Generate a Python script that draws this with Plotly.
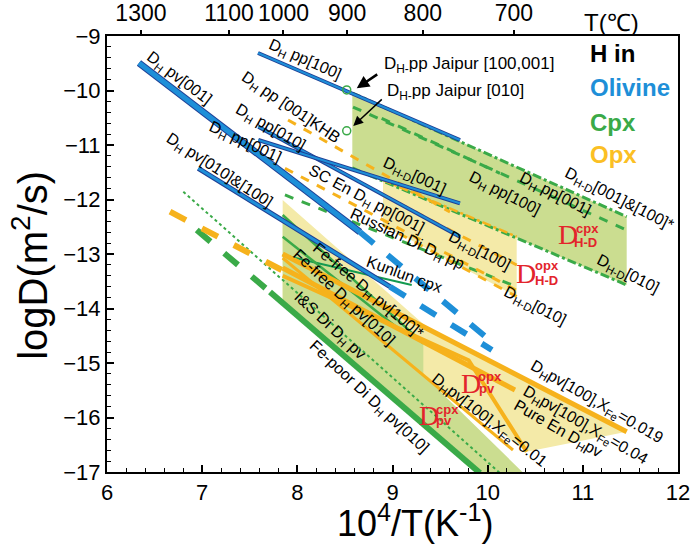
import plotly.graph_objects as go

# ---------------- data (x = 10^4/T, y = logD) ----------------
# Olivine
ol_pp100_x = [7.587, 9.709];  ol_pp100_y = [-9.312, -10.908]
ol_pv001_x = [6.336, 8.658];  ol_pv001_y = [-9.495, -12.596]
ol_pv001e_x = [8.658, 10.0];  ol_pv001e_y = [-12.596, -14.55]
ol_pp010_x = [7.590, 9.709];  ol_pp010_y = [-10.664, -12.683]
ol_pp001_x = [7.590, 9.709];  ol_pp001_y = [-10.908, -12.070]
ol_pv010_x = [6.959, 8.974];  ol_pv010_y = [-11.428, -13.600]
ol_pv010e_x = [8.974, 10.045]; ol_pv010e_y = [-13.600, -14.761]

# Cpx
cpx_hd_poly_x = [8.578, 11.461, 11.461, 8.578]
cpx_hd_poly_y = [-10.046, -12.316, -13.569, -11.422]
cpx_hd001_x = [8.578, 11.461]; cpx_hd001_y = [-10.046, -12.316]
cpx_hd010_x = [8.578, 11.461]; cpx_hd010_y = [-11.422, -13.569]
cpx_pp100_x = [8.886, 10.129]; cpx_pp100_y = [-10.511, -11.520]
cpx_pp001_x = [8.585, 11.461]; cpx_pp001_y = [-10.303, -12.560]
cpx_rus_x = [7.870, 10.305];   cpx_rus_y = [-11.917, -13.600]
cpx_kun_x = [7.846, 9.202];    cpx_kun_y = [-13.018, -13.569]
cpx_pv_poly_x = [7.846, 9.324, 9.324, 10.365, 9.919, 7.846]
cpx_pv_poly_y = [-12.284, -14.639, -15.220, -17.0, -17.0, -13.881]
cpx_ff100_x = [7.846, 9.324];  cpx_ff100_y = [-12.284, -14.639]
cpx_ff010_x = [7.846, 9.079];  cpx_ff010_y = [-12.683, -14.394]
cpx_dot_x = [6.802, 10.129];   cpx_dot_y = [-11.857, -17.018]
cpx_fpe_x = [6.943, 7.713];    cpx_fpe_y = [-12.560, -13.697]
cpx_fp_x = [7.713, 9.919];     cpx_fp_y = [-13.697, -17.018]
jaipur_x = [8.519, 8.519];     jaipur_y = [-9.99, -10.74]

# Opx
opx_hd_poly_x = [8.900, 10.305, 10.305, 8.900]
opx_hd_poly_y = [-11.642, -12.683, -13.783, -12.468]
opx_hd001_x = [8.900, 10.305]; opx_hd001_y = [-11.642, -12.683]
opx_hd100_x = [8.900, 10.305]; opx_hd100_y = [-11.917, -13.202]
opx_hd010_x = [8.900, 10.305]; opx_hd010_y = [-12.468, -13.783]
opx_khb_x = [7.902, 9.604];    opx_khb_y = [-10.541, -12.229]
opx_sc_x = [7.870, 10.297];    opx_sc_y = [-11.428, -13.661]
opx_pv_poly_x = [7.846, 9.395, 11.461, 10.410, 9.324, 7.846]
opx_pv_poly_y = [-12.009, -14.394, -16.261, -16.628, -15.220, -13.844]
opx_pve_x = [6.662, 7.836];    opx_pve_y = [-12.224, -13.294]
opx_019_x = [7.846, 11.461];   opx_019_y = [-13.0, -16.261]
opx_004_x = [7.846, 10.287];   opx_004_y = [-13.257, -15.495]
opx_001_x = [7.846, 10.266];   opx_001_y = [-13.073, -16.596]
opx_pure_x = [7.846, 9.8, 10.41]; opx_pure_y = [-13.40, -14.95, -16.628]

# axis ticks
top_T = [1300, 1100, 1000, 900, 800, 700]
y_ticks = [-17, -16, -15, -14, -13, -12, -11, -10, -9]

BLUE = "#1e8fd8"; DBLUE = "#1f3f95"; GREEN = "#3aaa48"; DGREEN = "#139a50"
ORANGE = "#f6b21c"; RED = "#e3242b"
CPXFILL = "#cbdd90"; OPXFILL = "#f4eaa8"

fig = go.Figure()

def line(x, y, color, width, dash="solid"):
    fig.add_trace(go.Scatter(x=x, y=y, mode="lines", line=dict(color=color, width=width, dash=dash),
                             hoverinfo="skip", showlegend=False))

def poly(x, y, color):
    fig.add_trace(go.Scatter(x=x, y=y, mode="lines", fill="toself", fillcolor=color,
                             line=dict(width=0), hoverinfo="skip", showlegend=False))

# fills
poly(opx_pv_poly_x, opx_pv_poly_y, OPXFILL)
poly(cpx_pv_poly_x, cpx_pv_poly_y, CPXFILL)
poly(cpx_hd_poly_x, cpx_hd_poly_y, CPXFILL)
poly(opx_hd_poly_x, opx_hd_poly_y, OPXFILL)

# cpx lines
line(cpx_hd001_x, cpx_hd001_y, GREEN, 3, "dashdot")
line(cpx_hd010_x, cpx_hd010_y, GREEN, 3, "dashdot")
line(cpx_pp100_x, cpx_pp100_y, GREEN, 3, "dash")
line(cpx_pp001_x, cpx_pp001_y, GREEN, 3, "dash")
line(cpx_rus_x, cpx_rus_y, GREEN, 3, "dash")
line(cpx_kun_x, cpx_kun_y, DGREEN, 2)
line(cpx_ff100_x, cpx_ff100_y, GREEN, 2.5)
line(cpx_ff010_x, cpx_ff010_y, GREEN, 2.5)
line(cpx_dot_x, cpx_dot_y, GREEN, 2, "dot")
line(cpx_fpe_x, cpx_fpe_y, GREEN, 6, "dash")
line(cpx_fp_x, cpx_fp_y, GREEN, 6)

# opx lines
line(opx_hd001_x, opx_hd001_y, ORANGE, 2.5, "dashdot")
line(opx_hd100_x, opx_hd100_y, ORANGE, 3, "dash")
line(opx_hd010_x, opx_hd010_y, ORANGE, 3, "dash")
line(opx_khb_x, opx_khb_y, ORANGE, 3, "dash")
line(opx_sc_x, opx_sc_y, ORANGE, 3, "dash")
line(opx_pve_x, opx_pve_y, ORANGE, 6, "dash")
line(opx_019_x, opx_019_y, ORANGE, 5)
line(opx_004_x, opx_004_y, ORANGE, 5)
line(opx_001_x, opx_001_y, ORANGE, 3)
line(opx_pure_x, opx_pure_y, ORANGE, 4)

# olivine lines (dark outline + light core)
for xs, ys, w in [(ol_pp100_x, ol_pp100_y, 4), (ol_pp010_x, ol_pp010_y, 4), (ol_pp001_x, ol_pp001_y, 4),
                  (ol_pv010_x, ol_pv010_y, 5), (ol_pv001_x, ol_pv001_y, 7)]:
    line(xs, ys, DBLUE, w)
    line(xs, ys, BLUE, w - 2)
line(ol_pv001e_x, ol_pv001e_y, BLUE, 6, "dash")
line(ol_pv010e_x, ol_pv010e_y, BLUE, 6, "dash")

fig.add_trace(go.Scatter(x=jaipur_x, y=jaipur_y, mode="markers",
                         marker=dict(symbol="circle-open", size=8, color=GREEN, line=dict(width=1.5)),
                         hoverinfo="skip", showlegend=False))
# dummy trace for top axis
fig.add_trace(go.Scatter(x=[6, 12], y=[-17, -17], xaxis="x2", mode="markers",
                         marker=dict(opacity=0), hoverinfo="skip", showlegend=False))

FONT = "Liberation Sans, Arial, sans-serif"
ann = []
def label(text, x, y, angle=0, size=16, color="black", xanchor="center", family=FONT):
    ann.append(dict(text=text, x=x, y=y, xref="x", yref="y", showarrow=False, textangle=angle,
                    font=dict(size=size, color=color, family=family), xanchor=xanchor, yanchor="middle"))

S = "<sub>H</sub>"
SD = "<sub>H-D</sub>"
labels = [
    ("D" + S + " pp[100]", 8.070, -9.440, 24),
    ("D" + S + " pv[001]", 6.757, -9.771, 37),
    ("D" + S + " pp [001]KHB", 7.923, -10.321, 34),
    ("D" + S + " pp[010]", 7.713, -10.670, 30),
    ("D" + S + " pp[001]", 7.450, -10.963, 25),
    ("D" + S + " pv[010]&[100]", 7.177, -11.459, 33),
    ("SC En D" + S + " pp[001]", 8.721, -12.009, 28),
    ("Russian Di D" + S + " pp", 9.152, -12.743, 25),
    ("Kunlun cpx", 9.131, -13.367, 20),
    ("Fe-free D" + S + " pv[100]*", 8.742, -13.697, 40),
    ("Fe-free D" + S + " pv[010]", 8.480, -13.807, 43),
    ("I&S Di D" + S + " pv", 8.333, -14.321, 43),
    ("Fe-poor Di D" + S + " pv[010]", 8.753, -15.642, 43),
    ("D" + SD + "[001]", 9.236, -11.569, 25),
    ("D" + S + " pp[100]", 10.172, -11.881, 27),
    ("D" + S + " pp[001]", 10.707, -11.917, 27),
    ("D" + SD + "[001]&[100]*", 11.380, -12.009, 27),
    ("D" + SD + "[100]", 9.919, -12.945, 27),
    ("D" + SD + "[010]", 10.497, -13.972, 27),
    ("D" + SD + "[010]", 11.474, -13.385, 27),
    ("D" + S + "pv[100],X<sub>Fe</sub>=0.019", 11.149, -15.716, 30),
    ("D" + S + "pv[100],X<sub>Fe</sub>=0.04", 11.023, -16.138, 30),
    ("Pure En D" + S + "pv", 10.739, -16.229, 30),
    ("D" + S + "pv[100],X<sub>Fe</sub>=0.01", 10.014, -16.046, 38),
]
for t, x, y, a in labels:
    label(t, x, y, a)

label("D<sub>H-</sub>pp Jaipur [100,001]", 8.886, -9.532, 0, 17, xanchor="left")
label("D<sub>H-</sub>pp Jaipur [010]", 8.921, -10.028, 0, 17, xanchor="left")

# red region labels
SERIF = "Liberation Serif, Times New Roman, serif"
BOLD = "Liberation Sans, Arial, sans-serif"
for (dx, dy, sx, sy, bx, by, sup, sub) in [
    (10.844, -12.651, 11.044, -12.541, 11.033, -12.780, "cpx", "H-D"),
    (10.403, -13.349, 10.623, -13.202, 10.623, -13.477, "opx", "H-D"),
    (9.825, -15.367, 10.024, -15.239, 9.993, -15.459, "opx", "pv"),
    (9.383, -15.972, 9.573, -15.844, 9.541, -16.064, "cpx", "pv"),
]:
    label("D", dx, dy, 0, 28, RED, family=SERIF)
    label("<b>" + sup + "</b>", sx, sy, 0, 13, RED, family=BOLD)
    label("<b>" + sub + "</b>", bx, by, 0, 13, RED, family=BOLD)

# legend text
for t, y, c in [("<b>H in</b>", -9.330, "black"), ("<b>Olivine</b>", -9.954, BLUE),
                ("<b>Cpx</b>", -10.578, GREEN), ("<b>Opx</b>", -11.183, "#fbbf24")]:
    label(t, 11.054, y, 0, 24, c, xanchor="left")

# arrows
ann.append(dict(x=8.624, y=-9.960, xref="x", yref="y", ax=22, ay=-15, showarrow=True,
                arrowhead=2, arrowsize=1, arrowwidth=2.5, arrowcolor="black", text=""))
ann.append(dict(x=8.588, y=-10.650, xref="x", yref="y", ax=30, ay=-28, showarrow=True,
                arrowhead=2, arrowsize=1.3, arrowwidth=1.5, arrowcolor="black", text=""))

# axis titles / top label
ann.append(dict(text="T(\u2103)", x=0.884, y=1.032, xref="paper", yref="paper", showarrow=False,
                xanchor="center", yanchor="middle",
                font=dict(size=24, family=FONT, color="black")))
ann.append(dict(text="logD(m<sup>2</sup>/s)", x=-0.135, y=0.475, xref="paper", yref="paper",
                showarrow=False, xanchor="center", yanchor="middle",
                textangle=-90, font=dict(size=40, family=FONT, color="black")))
ann.append(dict(text="10<sup>4</sup>/T(K<sup>-1</sup>)", x=0.539, y=-0.112, xref="paper", yref="paper",
                showarrow=False, xanchor="center", yanchor="middle",
                font=dict(size=36, family=FONT, color="black")))

top_vals = [10000.0 / (t + 273.15) for t in top_T]

fig.update_layout(
    width=696, height=550, margin=dict(l=107, r=18, t=36, b=78),
    paper_bgcolor="white", plot_bgcolor="white", annotations=ann, showlegend=False,
    xaxis=dict(range=[6, 12], dtick=1, ticks="inside", ticklen=7, tickwidth=1.5, tickcolor="black",
               showline=True, linewidth=2, linecolor="black", showgrid=False, zeroline=False,
               automargin=False, tickfont=dict(size=22, family=FONT, color="black"),
               minor=dict(dtick=0.2, ticks="inside", ticklen=4, tickwidth=1.2, tickcolor="black")),
    xaxis2=dict(range=[6, 12], overlaying="x", side="top", tickvals=top_vals,
                ticktext=[str(t) for t in top_T], ticks="outside", ticklen=4, tickwidth=1.5,
                tickcolor="black", showline=True, linewidth=2, linecolor="black", showgrid=False,
                zeroline=False, automargin=False, tickfont=dict(size=23, family=FONT, color="black")),
    yaxis=dict(range=[-17, -9], tickvals=y_ticks, ticktext=["\u2212" + str(-v) for v in y_ticks],
               ticks="inside", ticklen=7, tickwidth=1.5, tickcolor="black",
               showline=True, linewidth=2, linecolor="black", mirror=True, showgrid=False, zeroline=False,
               automargin=False, tickfont=dict(size=22, family=FONT, color="black"),
               minor=dict(dtick=0.2, ticks="inside", ticklen=4, tickwidth=1.2, tickcolor="black")),
)

fig.write_html("out.html", config={"displayModeBar": False},
               post_script="document.body.style.margin='0px';document.body.style.overflow='hidden';")
